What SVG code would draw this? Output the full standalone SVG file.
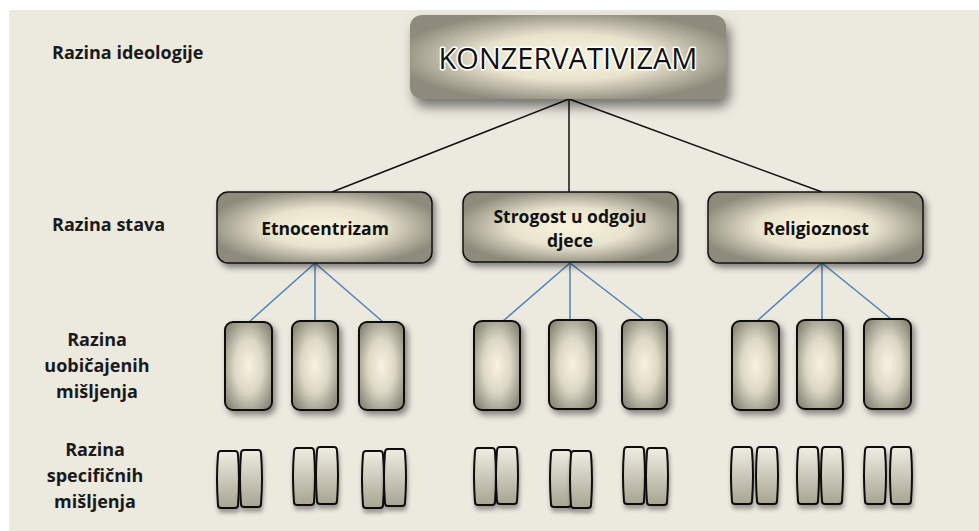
<svg xmlns="http://www.w3.org/2000/svg" width="979" height="531" viewBox="0 0 979 531">
<defs>
<radialGradient id="rg" cx="50%" cy="50%" r="55%">
<stop offset="0" stop-color="#f9f4de"/>
<stop offset="0.5" stop-color="#e8e3cd"/>
<stop offset="1" stop-color="#8e8b7c"/>
</radialGradient>
<radialGradient id="rgs" cx="50%" cy="50%" r="60%">
<stop offset="0" stop-color="#f8f3de"/>
<stop offset="0.5" stop-color="#dcd8c5"/>
<stop offset="1" stop-color="#8f8c7d"/>
</radialGradient>
<linearGradient id="lg" x1="0" y1="0" x2="0" y2="1">
<stop offset="0" stop-color="#efede2"/>
<stop offset="1" stop-color="#a7a492"/>
</linearGradient>
<filter id="sh" x="-20%" y="-20%" width="150%" height="160%">
<feDropShadow dx="3" dy="4" stdDeviation="3" flood-color="#000" flood-opacity="0.45"/>
</filter>
<filter id="shb" x="-20%" y="-20%" width="150%" height="180%">
<feDropShadow dx="4" dy="8" stdDeviation="6" flood-color="#000" flood-opacity="0.5"/>
</filter>
<filter id="shp" x="-40%" y="-20%" width="200%" height="150%">
<feDropShadow dx="1" dy="4" stdDeviation="2" flood-color="#000" flood-opacity="0.35"/>
</filter>
<path id="pill" d="M3,0 H17 Q20,0 20,4 Q22,28 20,54 Q20,57 17,57 H3 Q0,57 0,54 Q-2,28 0,4 Q0,0 3,0 Z"/>
</defs>
<style>
.lbl{font-family:"Open Sans","Liberation Sans",sans-serif;font-weight:bold;font-size:18px;fill:#1a1a1a}
.nt{font-family:"Open Sans","Liberation Sans",sans-serif;font-weight:bold;font-size:17.5px;fill:#111;text-anchor:middle}
.mid{fill:url(#rg);stroke:#111;stroke-width:1.5;filter:url(#sh)}
.sm{fill:url(#rgs);stroke:#111;stroke-width:2;filter:url(#sh)}
.pl{fill:url(#lg);stroke:#111;stroke-width:2;filter:url(#shp)}
.k{stroke:#111;stroke-width:1.5;fill:none}
.b{stroke:#4f81bd;stroke-width:1.5;fill:none}
</style>
<rect x="0" y="0" width="979" height="531" fill="#ffffff"/>
<rect x="9" y="10" width="970" height="521" fill="#ece9df"/>

<g id="labels">
<text class="lbl" x="52" y="59">Razina ideologije</text>
<text class="lbl" x="52" y="231">Razina stava</text>
<text class="lbl" x="97" y="346" text-anchor="middle">Razina</text>
<text class="lbl" x="97" y="372" text-anchor="middle">uobičajenih</text>
<text class="lbl" x="97" y="398" text-anchor="middle">mišljenja</text>
<text class="lbl" x="95" y="456" text-anchor="middle">Razina</text>
<text class="lbl" x="95" y="482" text-anchor="middle">specifičnih</text>
<text class="lbl" x="95" y="508" text-anchor="middle">mišljenja</text>
</g>

<g id="connectors">
<line class="k" x1="569" y1="99" x2="332" y2="192"/>
<line class="k" x1="569" y1="99" x2="569" y2="192"/>
<line class="k" x1="569" y1="99" x2="822" y2="192"/>
<line class="b" x1="315" y1="263" x2="249" y2="322"/>
<line class="b" x1="315" y1="263" x2="315" y2="321"/>
<line class="b" x1="315" y1="263" x2="383" y2="322"/>
<line class="b" x1="570" y1="263" x2="503" y2="321"/>
<line class="b" x1="570" y1="263" x2="570" y2="320"/>
<line class="b" x1="570" y1="263" x2="644" y2="320"/>
<line class="b" x1="822" y1="263" x2="757" y2="321"/>
<line class="b" x1="822" y1="263" x2="822" y2="320"/>
<line class="b" x1="822" y1="263" x2="891" y2="319"/>
</g>

<g id="konzervativizam">
<rect x="410" y="15" width="316" height="84" rx="12" fill="url(#rg)" filter="url(#shb)"/>
<text x="568" y="69" text-anchor="middle" font-family="'Open Sans','Liberation Sans',sans-serif" font-size="29" fill="#111" stroke="#ffffff" stroke-width="3" paint-order="stroke" stroke-linejoin="round">KONZERVATIVIZAM</text>
</g>

<g id="etnocentrizam">
<rect class="mid" x="217" y="192" width="215" height="71" rx="11"/>
<text class="nt" x="325" y="235">Etnocentrizam</text>
</g>
<g id="strogost">
<rect class="mid" x="463" y="192" width="215" height="70" rx="11"/>
<text class="nt" x="570" y="223">Strogost u odgoju</text>
<text class="nt" x="570" y="247">djece</text>
</g>
<g id="religioznost">
<rect class="mid" x="708" y="192" width="215" height="71" rx="11"/>
<text class="nt" x="816" y="235">Religioznost</text>
</g>

<g id="opinions">
<rect class="sm" x="225" y="322" width="47" height="88" rx="8"/>
<rect class="sm" x="292" y="321" width="46" height="89" rx="8"/>
<rect class="sm" x="359" y="322" width="45" height="88" rx="8"/>
<rect class="sm" x="474" y="321" width="46" height="89" rx="8"/>
<rect class="sm" x="549" y="320" width="47" height="89" rx="8"/>
<rect class="sm" x="622" y="320" width="45" height="89" rx="8"/>
<rect class="sm" x="732" y="321" width="47" height="89" rx="8"/>
<rect class="sm" x="797" y="320" width="46" height="89" rx="8"/>
<rect class="sm" x="864" y="319" width="47" height="90" rx="8"/>
</g>

<g id="specific">
<use href="#pill" class="pl" transform="translate(218,451)"/>
<use href="#pill" class="pl" transform="translate(241,450)"/>
<use href="#pill" class="pl" transform="translate(294,448)"/>
<use href="#pill" class="pl" transform="translate(317,447)"/>
<use href="#pill" class="pl" transform="translate(363,451)"/>
<use href="#pill" class="pl" transform="translate(385,449)"/>
<use href="#pill" class="pl" transform="translate(475,448)"/>
<use href="#pill" class="pl" transform="translate(497,447)"/>
<use href="#pill" class="pl" transform="translate(551,450)"/>
<use href="#pill" class="pl" transform="translate(571,451)"/>
<use href="#pill" class="pl" transform="translate(624,447)"/>
<use href="#pill" class="pl" transform="translate(647,448)"/>
<use href="#pill" class="pl" transform="translate(732,447)"/>
<use href="#pill" class="pl" transform="translate(757,447)"/>
<use href="#pill" class="pl" transform="translate(798,447)"/>
<use href="#pill" class="pl" transform="translate(822,447)"/>
<use href="#pill" class="pl" transform="translate(865,447)"/>
<use href="#pill" class="pl" transform="translate(891,447)"/>
</g>
</svg>
